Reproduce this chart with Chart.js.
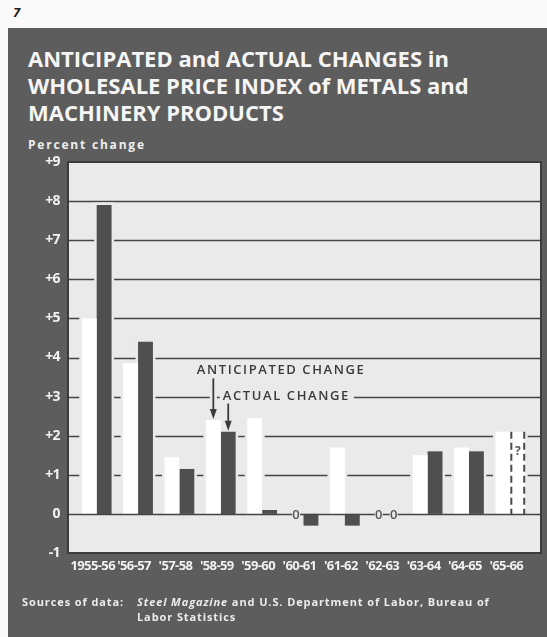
<!DOCTYPE html>
<html>
<head>
<meta charset="utf-8">
<script src="https://cdn.jsdelivr.net/npm/chart.js@4.4.1/dist/chart.umd.min.js"></script>
<style>
  html, body { margin:0; padding:0; width:547px; height:637px; overflow:hidden; background:#fafafa; }
  body { position:relative; font-family:"Open Sans", "DejaVu Sans", sans-serif; }
  #pg { position:absolute; left:13px; top:3px; font:italic 700 13px "Open Sans", sans-serif; color:#222; }
  #panel { position:absolute; left:8px; top:28px; width:539px; height:609px; background:#5d5d5d; }
  #title { position:absolute; left:28px; top:45px; margin:0; color:#f5f5f5;
           font:700 22px/27px "Open Sans", sans-serif; letter-spacing:0px; white-space:nowrap; }
  #unit { position:absolute; left:28px; top:136px; color:#eeeeee; font:700 12px "Open Sans", sans-serif; letter-spacing:1.8px; }
  #src { position:absolute; left:22px; top:594px; color:#ececec; font:700 11px/15px "Open Sans", sans-serif; letter-spacing:0.9px; }
  #src .lbl { position:absolute; left:0; top:0; white-space:nowrap; }
  #src .txt { position:absolute; left:115px; top:0; white-space:nowrap; }
  #chart { position:absolute; left:0; top:0; }
</style>
</head>
<body>
<div id="pg">7</div>
<div id="panel"></div>
<h1 id="title">ANTICIPATED and ACTUAL CHANGES in<br>WHOLESALE PRICE INDEX of METALS and<br>MACHINERY PRODUCTS</h1>
<div id="unit">Percent change</div>
<canvas id="chart" width="547" height="637"></canvas>
<div id="src"><span class="lbl">Sources of data:</span><span class="txt"><i>Steel Magazine</i> and U.S. Department of Labor, Bureau of<br>Labor Statistics</span></div>

<script>
// ---- data ----
const categories = ["1955-56", "'56-57", "'57-58", "'58-59", "'59-60", "'60-61", "'61-62", "'62-63", "'63-64", "'64-65", "'65-66"];
const anticipated = [5.0, 3.85, 1.45, 2.4, 2.45, 0, 1.7, 0, 1.5, 1.7, 2.1];
const actual      = [7.9, 4.4, 1.15, 2.1, 0.1, -0.3, -0.3, 0, 1.6, 1.6, null];
const projected   = [null, null, null, null, null, null, null, null, null, null, 2.1]; // unknown ("?") actual
const yTickLabels = ["-1", "0", "+1", "+2", "+3", "+4", "+5", "+6", "+7", "+8", "+9"];
const yMin = -1, yMax = 9;

// ---- styles ----
const PLOT_BG = '#eaeaea';
const GRID = '#444444';
const DARK_BAR = '#4f4f4f';
const WHITE_BAR = '#ffffff';
const TEXT_DARK = '#3a3a3a';
const FRAME_PAD_L = 8, FRAME_PAD_R = 10;

const decor = {
  id: 'decor',
  beforeDraw(chart) {
    const {ctx, chartArea: a} = chart;
    ctx.save();
    ctx.fillStyle = PLOT_BG;
    ctx.fillRect(a.left - FRAME_PAD_L, a.top, a.right - a.left + FRAME_PAD_L + FRAME_PAD_R, a.bottom - a.top);
    ctx.restore();
    // tighter tracking for the axis labels (condensed look)
    ctx.letterSpacing = '-0.6px';
  },
  beforeDatasetsDraw(chart) {
    const {ctx, chartArea: a, scales: {y}} = chart;
    ctx.letterSpacing = '0px';
    const L = a.left - FRAME_PAD_L, R = a.right + FRAME_PAD_R;
    ctx.save();
    ctx.strokeStyle = GRID; ctx.lineWidth = 1.6;
    for (let v = yMin + 1; v < yMax; v++) {
      if (v === 0) continue;
      const py = Math.round(y.getPixelForValue(v)) + 0.5;
      ctx.beginPath(); ctx.moveTo(L, py); ctx.lineTo(R, py); ctx.stroke();
    }
    // knock-out ring around bars
    ctx.fillStyle = PLOT_BG;
    chart.data.datasets.forEach((ds, di) => {
      chart.getDatasetMeta(di).data.forEach((el, i) => {
        const v = ds.data[i];
        if (v === null || v === 0) return;
        const p = el.getProps(['x', 'y', 'base', 'width'], true);
        const top = Math.min(p.y, p.base), bot = Math.max(p.y, p.base);
        ctx.fillRect(p.x - p.width / 2 - 2.5, top - 2.5, p.width + 5, bot - top + 2.5);
      });
    });
    // knock-out for annotation text and arrow on the +3 grid line
    const ann = annot(chart);
    ctx.fillRect(ann.actTextX - 3, ann.actTextY - 4, ann.actTextW + 7, 8);
    ctx.fillRect(ann.antX - 3.5, ann.actTextY - 4, 7, 8);
    ctx.restore();
  },
  afterDatasetsDraw(chart) {
    const {ctx, chartArea: a, scales: {y}} = chart;
    const L = a.left - FRAME_PAD_L, R = a.right + FRAME_PAD_R;
    ctx.save();
    // zero line
    const y0 = Math.round(y.getPixelForValue(0)) + 0.5;
    ctx.strokeStyle = GRID; ctx.lineWidth = 1.6;
    ctx.beginPath(); ctx.moveTo(L, y0); ctx.lineTo(R, y0); ctx.stroke();
    // frame
    ctx.lineWidth = 2; ctx.strokeStyle = '#3c3c3c';
    ctx.strokeRect(L, a.top, R - L, a.bottom - a.top);

    // "0" markers for zero values
    ctx.font = '600 13px "Open Sans", sans-serif';
    ctx.textAlign = 'center'; ctx.textBaseline = 'middle';
    [chart.data.datasets[0], chart.data.datasets[1]].forEach((ds, di) => {
      chart.getDatasetMeta(di).data.forEach((el, i) => {
        if (ds.data[i] === 0) {
          const p = el.getProps(['x'], true);
          ctx.fillStyle = PLOT_BG; ctx.fillRect(p.x - 4, y0 - 6, 8, 12);
          ctx.fillStyle = '#555555'; ctx.fillText('0', p.x, y0 + 0.5);
        }
      });
    });

    // dashed outline for projected bar + "?"
    const pm = chart.getDatasetMeta(2);
    pm.data.forEach((el, i) => {
      if (projected[i] === null) return;
      const p = el.getProps(['x', 'y', 'base', 'width'], true);
      ctx.strokeStyle = '#4a4a4a'; ctx.lineWidth = 2; ctx.setLineDash([7, 4]);
      [p.x - p.width / 2 + 1, p.x + p.width / 2 - 1].forEach(px => {
        ctx.beginPath(); ctx.moveTo(px, p.y); ctx.lineTo(px, p.base); ctx.stroke();
      });
      ctx.setLineDash([]);
      ctx.fillStyle = '#555555';
      ctx.font = '700 12px "Open Sans", sans-serif';
      ctx.fillText('?', p.x, p.y + 20);
    });

    // annotations
    const ann = annot(chart);
    ctx.fillStyle = TEXT_DARK;
    ctx.font = '600 13px "Open Sans", sans-serif';
    ctx.letterSpacing = '1.6px';
    ctx.textAlign = 'left'; ctx.textBaseline = 'middle';
    ctx.fillText('ANTICIPATED CHANGE', ann.antTextX, ann.antTextY);
    ctx.fillText('ACTUAL CHANGE', ann.actTextX, ann.actTextY);
    ctx.letterSpacing = '0px';
    const arrow = (x, y1, y2) => {
      ctx.strokeStyle = TEXT_DARK; ctx.lineWidth = 1.8;
      ctx.beginPath(); ctx.moveTo(x, y1); ctx.lineTo(x, y2 - 8); ctx.stroke();
      ctx.beginPath(); ctx.moveTo(x - 3.5, y2 - 10); ctx.lineTo(x + 3.5, y2 - 10); ctx.lineTo(x, y2); ctx.closePath();
      ctx.fillStyle = TEXT_DARK; ctx.fill();
    };
    arrow(ann.antX, ann.antTextY + 8, ann.antTop - 1);
    arrow(ann.actX, ann.actTextY + 7, ann.actTop - 1);
    ctx.restore();
  }
};

function annot(chart) {
  const {ctx, scales: {x, y}} = chart;
  const idx = 3; // '58-59
  const a = chart.getDatasetMeta(0).data[idx].getProps(['x', 'y'], true);
  const b = chart.getDatasetMeta(1).data[idx].getProps(['x', 'y'], true);
  ctx.save();
  ctx.font = '600 13px "Open Sans", sans-serif';
  ctx.letterSpacing = '1.6px';
  const w = ctx.measureText('ACTUAL CHANGE').width;
  ctx.restore();
  return {
    antX: a.x, antTop: a.y,
    actX: b.x, actTop: b.y,
    antTextX: x.getPixelForValue(idx) - 24, antTextY: y.getPixelForValue(3.67),
    actTextX: x.getPixelForValue(idx) + 2, actTextY: y.getPixelForValue(3.0),
    actTextW: w
  };
}

new Chart(document.getElementById('chart'), {
  type: 'bar',
  data: {
    labels: categories,
    datasets: [
      { label: 'Anticipated change', data: anticipated, backgroundColor: WHITE_BAR, borderWidth: 0, skipNull: true },
      { label: 'Actual change', data: actual, backgroundColor: DARK_BAR, borderWidth: 0, skipNull: true },
      { label: 'Actual change (unknown)', data: projected, backgroundColor: WHITE_BAR, borderWidth: 0, skipNull: true }
    ]
  },
  options: {
    responsive: false,
    animation: false,
    devicePixelRatio: 1,
    layout: { padding: { top: 162, right: 16, bottom: 0, left: 0 } },
    datasets: { bar: { categoryPercentage: 0.72, barPercentage: 1.0 } },
    plugins: { legend: { display: false }, tooltip: { enabled: false }, title: { display: false } },
    scales: {
      x: {
        grid: { display: false, drawTicks: false },
        border: { display: false },
        ticks: { color: '#f2f2f2', font: { family: '"Open Sans", sans-serif', size: 13, weight: '700' },
                 padding: 5, labelOffset: -4, maxRotation: 0, autoSkip: false },
        afterFit(s) { s.height = 84; }
      },
      y: {
        min: yMin, max: yMax,
        grid: { display: false, drawTicks: false },
        border: { display: false },
        ticks: { stepSize: 1, color: '#f2f2f2', font: { family: '"Open Sans", sans-serif', size: 14, weight: '700' },
                 padding: 16, callback: (v) => yTickLabels[Math.round(v - yMin)] },
        afterFit(s) { s.width = 76; }
      }
    }
  },
  plugins: [decor]
});
</script>
</body>
</html>
